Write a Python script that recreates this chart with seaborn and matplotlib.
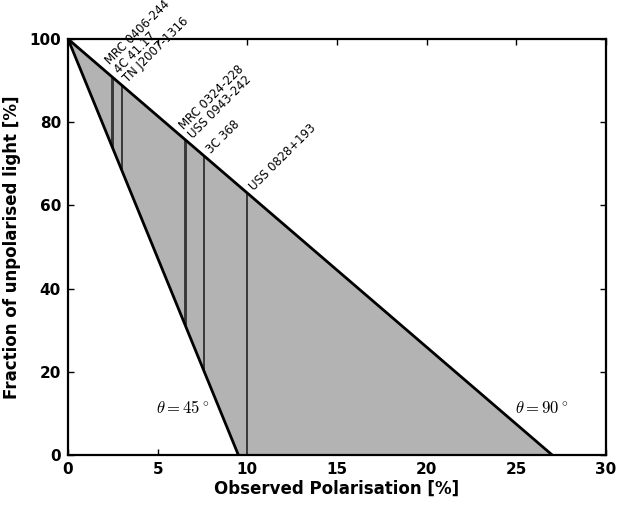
import numpy as np
import pandas as pd
import matplotlib
matplotlib.use("Agg")
import matplotlib.pyplot as plt
import seaborn as sns

# ---- data ----
sources = ["MRC 0406-244", "4C 41.17", "TN J2007-1316",
           "MRC 0324-228", "USS 0943-242", "3C 368", "USS 0828+193"]
polarisation = [2.45, 2.5, 3.0, 6.5, 6.6, 7.6, 10.0]
label_groups = [[0, 1, 2], [3, 4], [5], [6]]
pmax_45 = 9.5
pmax_90 = 27.0
x_ticks = [0, 5, 10, 15, 20, 25, 30]
y_ticks = [0, 20, 40, 60, 80, 100]

sns.set_style("ticks")
plt.rcParams["font.family"] = ["DejaVu Sans"]
plt.rcParams["mathtext.fontset"] = "cm"
for k in ["text.color", "axes.labelcolor", "xtick.color", "ytick.color", "axes.edgecolor"]:
    plt.rcParams[k] = "black"

fig = plt.figure(figsize=(6.19, 5.08), dpi=100)
ax = fig.add_axes([68 / 619, 1 - 455 / 508, (606 - 68) / 619, (455 - 39) / 508])

pol = np.array(polarisation)
f45 = 100 * (1 - pol / pmax_45)
f90 = 100 * (1 - pol / pmax_90)

# filled region
ax.fill([0, pmax_45, pmax_90], [100, 0, 0], color="0.7", lw=0, zorder=1)

# vertical source lines
ax.vlines(pol, f45, f90, color="0.22", lw=1.4, zorder=2)

# triangle edges
edges = pd.DataFrame({"p": [0, pmax_45, 0, pmax_90],
                      "f": [100, 0, 100, 0],
                      "edge": ["45", "45", "90", "90"]})
sns.lineplot(data=edges, x="p", y="f", units="edge", estimator=None,
             sort=False, color="k", lw=2, ax=ax, zorder=3)

# labels
for grp in label_groups:
    txt = "\n".join(sources[i] for i in grp)
    i_last = grp[-1]
    ax.annotate(txt, xy=(pol[i_last], f90[i_last]), xytext=(6.0, 0.0),
                textcoords="offset points", rotation=45, rotation_mode="anchor",
                ha="left", va="bottom", fontsize=8.4, linespacing=0.95,
                annotation_clip=False)

ax.text(6.4, 11.3, r"$\theta=45^\circ$", fontsize=12, ha="center", va="center")
ax.text(26.4, 11.3, r"$\theta=90^\circ$", fontsize=12, ha="center", va="center")

ax.set_xlim(0, 30)
ax.set_ylim(0, 100)
ax.set_xticks(x_ticks)
ax.set_yticks(y_ticks)
ax.set_xlabel("Observed Polarisation [%]", fontsize=12, fontweight="bold", labelpad=2)
ax.set_ylabel("Fraction of unpolarised light [%]", fontsize=12, fontweight="bold", labelpad=6)
ax.tick_params(direction="in", length=4, width=1, top=True, right=True,
               labelsize=11, pad=5, color="k")
for lab in ax.get_xticklabels() + ax.get_yticklabels():
    lab.set_fontweight("bold")
for s in ax.spines.values():
    s.set_visible(True)
    s.set_linewidth(1.6)
    s.set_color("k")

fig.savefig("out.png", dpi=100)
